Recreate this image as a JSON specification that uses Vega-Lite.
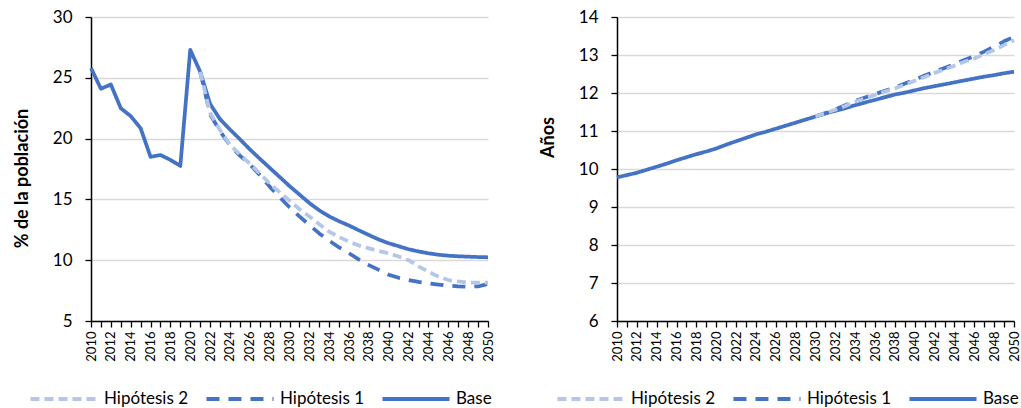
{
"$schema":"https://vega.github.io/schema/vega-lite/v6.json",
"padding":{"left":13,"top":8,"right":0,"bottom":0},
"background":"white",
"config":{
 "font":"Lato",
 "view":{"stroke":null},
 "axis":{"domainColor":"black","domainWidth":1.5,"tickColor":"black","tickWidth":1.3,"tickSize":6,"labelColor":"black","titleColor":"black","labelFont":"Lato","titleFont":"Lato"},
 "axisY":{"gridColor":"#d9d9d9","gridWidth":1.3,"labelFontSize":17,"labelPadding":13,"titleFontSize":18,"titleFontWeight":"bold","titlePadding":21},
 "axisX":{"grid":false,"labelFontSize":13,"labelAngle":270,"labelPadding":4,"labelOverlap":false,"labelFlush":false,"title":null},
 "legend":{"orient":"none","direction":"horizontal","title":null,"symbolType":"stroke","symbolSize":4500,"symbolStrokeWidth":4,"labelFontSize":17,"labelColor":"black","labelFont":"Lato","labelOffset":4,"columnPadding":10,"padding":0}
},
"datasets":{
"pob":[
{"anio":2010,"serie":"Base","valor":25.8},{"anio":2011,"serie":"Base","valor":24.1},{"anio":2012,"serie":"Base","valor":24.45},{"anio":2013,"serie":"Base","valor":22.5},{"anio":2014,"serie":"Base","valor":21.85},{"anio":2015,"serie":"Base","valor":20.85},{"anio":2016,"serie":"Base","valor":18.5},{"anio":2017,"serie":"Base","valor":18.65},{"anio":2018,"serie":"Base","valor":18.25},{"anio":2019,"serie":"Base","valor":17.75},{"anio":2020,"serie":"Base","valor":27.3},{"anio":2021,"serie":"Base","valor":25.5},{"anio":2022,"serie":"Base","valor":22.85},{"anio":2023,"serie":"Base","valor":21.6},{"anio":2024,"serie":"Base","valor":20.75},{"anio":2025,"serie":"Base","valor":19.95},{"anio":2026,"serie":"Base","valor":19.12},{"anio":2027,"serie":"Base","valor":18.35},{"anio":2028,"serie":"Base","valor":17.6},{"anio":2029,"serie":"Base","valor":16.85},{"anio":2030,"serie":"Base","valor":16.1},{"anio":2031,"serie":"Base","valor":15.4},{"anio":2032,"serie":"Base","valor":14.7},{"anio":2033,"serie":"Base","valor":14.1},{"anio":2034,"serie":"Base","valor":13.6},{"anio":2035,"serie":"Base","valor":13.2},{"anio":2036,"serie":"Base","valor":12.85},{"anio":2037,"serie":"Base","valor":12.45},{"anio":2038,"serie":"Base","valor":12.07},{"anio":2039,"serie":"Base","valor":11.7},{"anio":2040,"serie":"Base","valor":11.39},{"anio":2041,"serie":"Base","valor":11.15},{"anio":2042,"serie":"Base","valor":10.9},{"anio":2043,"serie":"Base","valor":10.72},{"anio":2044,"serie":"Base","valor":10.57},{"anio":2045,"serie":"Base","valor":10.45},{"anio":2046,"serie":"Base","valor":10.37},{"anio":2047,"serie":"Base","valor":10.32},{"anio":2048,"serie":"Base","valor":10.29},{"anio":2049,"serie":"Base","valor":10.26},{"anio":2050,"serie":"Base","valor":10.24},
{"anio":2021,"serie":"Hipótesis 1","valor":25.5},{"anio":2022,"serie":"Hipótesis 1","valor":22.0},{"anio":2023,"serie":"Hipótesis 1","valor":20.6},{"anio":2024,"serie":"Hipótesis 1","valor":19.45},{"anio":2025,"serie":"Hipótesis 1","valor":18.6},{"anio":2026,"serie":"Hipótesis 1","valor":17.9},{"anio":2027,"serie":"Hipótesis 1","valor":17.0},{"anio":2028,"serie":"Hipótesis 1","valor":16.05},{"anio":2029,"serie":"Hipótesis 1","valor":15.2},{"anio":2030,"serie":"Hipótesis 1","valor":14.35},{"anio":2031,"serie":"Hipótesis 1","valor":13.6},{"anio":2032,"serie":"Hipótesis 1","valor":12.9},{"anio":2033,"serie":"Hipótesis 1","valor":12.2},{"anio":2034,"serie":"Hipótesis 1","valor":11.6},{"anio":2035,"serie":"Hipótesis 1","valor":11.05},{"anio":2036,"serie":"Hipótesis 1","valor":10.57},{"anio":2037,"serie":"Hipótesis 1","valor":10.05},{"anio":2038,"serie":"Hipótesis 1","valor":9.6},{"anio":2039,"serie":"Hipótesis 1","valor":9.2},{"anio":2040,"serie":"Hipótesis 1","valor":8.8},{"anio":2041,"serie":"Hipótesis 1","valor":8.55},{"anio":2042,"serie":"Hipótesis 1","valor":8.37},{"anio":2043,"serie":"Hipótesis 1","valor":8.22},{"anio":2044,"serie":"Hipótesis 1","valor":8.1},{"anio":2045,"serie":"Hipótesis 1","valor":8.0},{"anio":2046,"serie":"Hipótesis 1","valor":7.9},{"anio":2047,"serie":"Hipótesis 1","valor":7.85},{"anio":2048,"serie":"Hipótesis 1","valor":7.82},{"anio":2049,"serie":"Hipótesis 1","valor":7.85},{"anio":2050,"serie":"Hipótesis 1","valor":8.04},
{"anio":2021,"serie":"Hipótesis 2","valor":25.5},{"anio":2022,"serie":"Hipótesis 2","valor":22.1},{"anio":2023,"serie":"Hipótesis 2","valor":20.7},{"anio":2024,"serie":"Hipótesis 2","valor":19.5},{"anio":2025,"serie":"Hipótesis 2","valor":18.7},{"anio":2026,"serie":"Hipótesis 2","valor":17.95},{"anio":2027,"serie":"Hipótesis 2","valor":17.15},{"anio":2028,"serie":"Hipótesis 2","valor":16.3},{"anio":2029,"serie":"Hipótesis 2","valor":15.6},{"anio":2030,"serie":"Hipótesis 2","valor":14.9},{"anio":2031,"serie":"Hipótesis 2","valor":14.2},{"anio":2032,"serie":"Hipótesis 2","valor":13.6},{"anio":2033,"serie":"Hipótesis 2","valor":12.95},{"anio":2034,"serie":"Hipótesis 2","valor":12.35},{"anio":2035,"serie":"Hipótesis 2","valor":11.9},{"anio":2036,"serie":"Hipótesis 2","valor":11.52},{"anio":2037,"serie":"Hipótesis 2","valor":11.2},{"anio":2038,"serie":"Hipótesis 2","valor":10.97},{"anio":2039,"serie":"Hipótesis 2","valor":10.75},{"anio":2040,"serie":"Hipótesis 2","valor":10.57},{"anio":2041,"serie":"Hipótesis 2","valor":10.3},{"anio":2042,"serie":"Hipótesis 2","valor":10.0},{"anio":2043,"serie":"Hipótesis 2","valor":9.5},{"anio":2044,"serie":"Hipótesis 2","valor":9.05},{"anio":2045,"serie":"Hipótesis 2","valor":8.65},{"anio":2046,"serie":"Hipótesis 2","valor":8.37},{"anio":2047,"serie":"Hipótesis 2","valor":8.25},{"anio":2048,"serie":"Hipótesis 2","valor":8.15},{"anio":2049,"serie":"Hipótesis 2","valor":8.15},{"anio":2050,"serie":"Hipótesis 2","valor":8.15}
],
"anos":[
{"anio":2010,"serie":"Base","valor":9.78},{"anio":2011,"serie":"Base","valor":9.84},{"anio":2012,"serie":"Base","valor":9.9},{"anio":2013,"serie":"Base","valor":9.98},{"anio":2014,"serie":"Base","valor":10.06},{"anio":2015,"serie":"Base","valor":10.14},{"anio":2016,"serie":"Base","valor":10.23},{"anio":2017,"serie":"Base","valor":10.31},{"anio":2018,"serie":"Base","valor":10.39},{"anio":2019,"serie":"Base","valor":10.46},{"anio":2020,"serie":"Base","valor":10.54},{"anio":2021,"serie":"Base","valor":10.64},{"anio":2022,"serie":"Base","valor":10.73},{"anio":2023,"serie":"Base","valor":10.82},{"anio":2024,"serie":"Base","valor":10.91},{"anio":2025,"serie":"Base","valor":10.98},{"anio":2026,"serie":"Base","valor":11.06},{"anio":2027,"serie":"Base","valor":11.14},{"anio":2028,"serie":"Base","valor":11.22},{"anio":2029,"serie":"Base","valor":11.3},{"anio":2030,"serie":"Base","valor":11.38},{"anio":2031,"serie":"Base","valor":11.46},{"anio":2032,"serie":"Base","valor":11.53},{"anio":2033,"serie":"Base","valor":11.6},{"anio":2034,"serie":"Base","valor":11.68},{"anio":2035,"serie":"Base","valor":11.75},{"anio":2036,"serie":"Base","valor":11.82},{"anio":2037,"serie":"Base","valor":11.89},{"anio":2038,"serie":"Base","valor":11.96},{"anio":2039,"serie":"Base","valor":12.01},{"anio":2040,"serie":"Base","valor":12.07},{"anio":2041,"serie":"Base","valor":12.13},{"anio":2042,"serie":"Base","valor":12.18},{"anio":2043,"serie":"Base","valor":12.23},{"anio":2044,"serie":"Base","valor":12.28},{"anio":2045,"serie":"Base","valor":12.33},{"anio":2046,"serie":"Base","valor":12.38},{"anio":2047,"serie":"Base","valor":12.43},{"anio":2048,"serie":"Base","valor":12.47},{"anio":2049,"serie":"Base","valor":12.52},{"anio":2050,"serie":"Base","valor":12.56},
{"anio":2030,"serie":"Hipótesis 1","valor":11.38},{"anio":2031,"serie":"Hipótesis 1","valor":11.47},{"anio":2032,"serie":"Hipótesis 1","valor":11.57},{"anio":2033,"serie":"Hipótesis 1","valor":11.68},{"anio":2034,"serie":"Hipótesis 1","valor":11.79},{"anio":2035,"serie":"Hipótesis 1","valor":11.88},{"anio":2036,"serie":"Hipótesis 1","valor":11.97},{"anio":2037,"serie":"Hipótesis 1","valor":12.06},{"anio":2038,"serie":"Hipótesis 1","valor":12.14},{"anio":2039,"serie":"Hipótesis 1","valor":12.25},{"anio":2040,"serie":"Hipótesis 1","valor":12.35},{"anio":2041,"serie":"Hipótesis 1","valor":12.46},{"anio":2042,"serie":"Hipótesis 1","valor":12.56},{"anio":2043,"serie":"Hipótesis 1","valor":12.66},{"anio":2044,"serie":"Hipótesis 1","valor":12.76},{"anio":2045,"serie":"Hipótesis 1","valor":12.87},{"anio":2046,"serie":"Hipótesis 1","valor":12.97},{"anio":2047,"serie":"Hipótesis 1","valor":13.09},{"anio":2048,"serie":"Hipótesis 1","valor":13.22},{"anio":2049,"serie":"Hipótesis 1","valor":13.36},{"anio":2050,"serie":"Hipótesis 1","valor":13.48},
{"anio":2030,"serie":"Hipótesis 2","valor":11.38},{"anio":2031,"serie":"Hipótesis 2","valor":11.47},{"anio":2032,"serie":"Hipótesis 2","valor":11.56},{"anio":2033,"serie":"Hipótesis 2","valor":11.66},{"anio":2034,"serie":"Hipótesis 2","valor":11.77},{"anio":2035,"serie":"Hipótesis 2","valor":11.86},{"anio":2036,"serie":"Hipótesis 2","valor":11.95},{"anio":2037,"serie":"Hipótesis 2","valor":12.04},{"anio":2038,"serie":"Hipótesis 2","valor":12.12},{"anio":2039,"serie":"Hipótesis 2","valor":12.22},{"anio":2040,"serie":"Hipótesis 2","valor":12.32},{"anio":2041,"serie":"Hipótesis 2","valor":12.42},{"anio":2042,"serie":"Hipótesis 2","valor":12.53},{"anio":2043,"serie":"Hipótesis 2","valor":12.62},{"anio":2044,"serie":"Hipótesis 2","valor":12.72},{"anio":2045,"serie":"Hipótesis 2","valor":12.82},{"anio":2046,"serie":"Hipótesis 2","valor":12.91},{"anio":2047,"serie":"Hipótesis 2","valor":13.02},{"anio":2048,"serie":"Hipótesis 2","valor":13.13},{"anio":2049,"serie":"Hipótesis 2","valor":13.26},{"anio":2050,"serie":"Hipótesis 2","valor":13.39}
]
},
"spacing":44,
"resolve":{"scale":{"y":"independent"},"legend":{"color":"independent","strokeDash":"independent"}},
"hconcat":[
{
 "width":397,"height":304,
 "data":{"name":"pob"},
 "mark":{"type":"line","strokeWidth":3.75,"strokeJoin":"round"},
 "encoding":{
  "x":{"field":"anio","type":"quantitative","scale":{"domain":[2010,2050],"nice":false,"zero":false},
   "axis":{"values":[2010,2011,2012,2013,2014,2015,2016,2017,2018,2019,2020,2021,2022,2023,2024,2025,2026,2027,2028,2029,2030,2031,2032,2033,2034,2035,2036,2037,2038,2039,2040,2041,2042,2043,2044,2045,2046,2047,2048,2049,2050],"labelExpr":"datum.value % 2 == 0 ? datum.value : ''"}},
  "y":{"field":"valor","type":"quantitative","scale":{"domain":[5,30],"nice":false,"zero":false},"axis":{"title":"% de la población","titleY":161,"values":[5,10,15,20,25,30]}},
  "color":{"field":"serie","type":"nominal","sort":["Hipótesis 2","Hipótesis 1","Base"],"scale":{"domain":["Hipótesis 2","Hipótesis 1","Base"],"range":["#B4C7E7","#4472C4","#4472C4"]},"legend":{"legendX":-63,"legendY":346}},
  "strokeDash":{"field":"serie","type":"nominal","sort":["Hipótesis 2","Hipótesis 1","Base"],"scale":{"domain":["Hipótesis 2","Hipótesis 1","Base"],"range":[[9,5],[13,9],[1,0]]},"legend":{"legendX":-63,"legendY":346}}
 }
},
{
 "width":397,"height":304,
 "data":{"name":"anos"},
 "mark":{"type":"line","strokeWidth":3.75,"strokeJoin":"round"},
 "encoding":{
  "x":{"field":"anio","type":"quantitative","scale":{"domain":[2010,2050],"nice":false,"zero":false},
   "axis":{"values":[2010,2011,2012,2013,2014,2015,2016,2017,2018,2019,2020,2021,2022,2023,2024,2025,2026,2027,2028,2029,2030,2031,2032,2033,2034,2035,2036,2037,2038,2039,2040,2041,2042,2043,2044,2045,2046,2047,2048,2049,2050],"labelExpr":"datum.value % 2 == 0 ? datum.value : ''"}},
  "y":{"field":"valor","type":"quantitative","scale":{"domain":[6,14],"nice":false,"zero":false},"axis":{"title":"Años","titleY":120,"values":[6,7,8,9,10,11,12,13,14]}},
  "color":{"field":"serie","type":"nominal","sort":["Hipótesis 2","Hipótesis 1","Base"],"scale":{"domain":["Hipótesis 2","Hipótesis 1","Base"],"range":["#B4C7E7","#4472C4","#4472C4"]},"legend":{"legendX":-62,"legendY":346}},
  "strokeDash":{"field":"serie","type":"nominal","sort":["Hipótesis 2","Hipótesis 1","Base"],"scale":{"domain":["Hipótesis 2","Hipótesis 1","Base"],"range":[[9,5],[13,9],[1,0]]},"legend":{"legendX":-62,"legendY":346}}
 }
}
]
}
